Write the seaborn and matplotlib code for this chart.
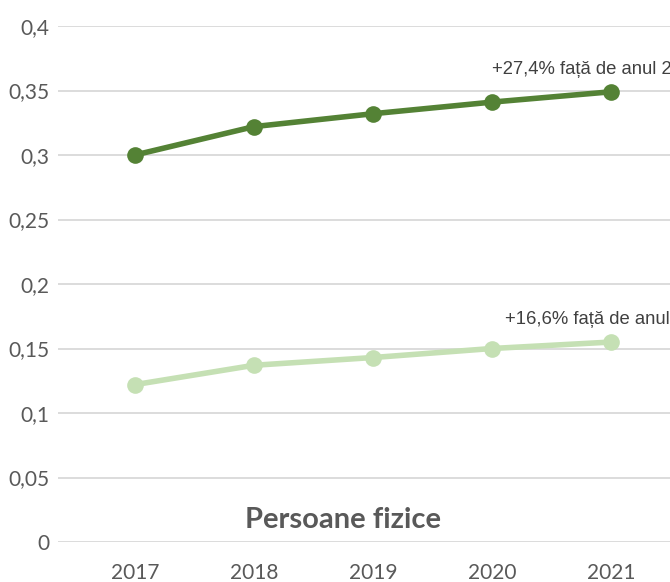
import matplotlib
matplotlib.use("Agg")
import matplotlib.pyplot as plt
import seaborn as sns
import pandas as pd

years = ["2017", "2018", "2019", "2020", "2021"]
series_names = ["dark", "light"]
dark_values = [0.300, 0.322, 0.332, 0.341, 0.349]
light_values = [0.122, 0.137, 0.143, 0.150, 0.155]
labels = ["+27,4% față de anul 2017", "+16,6% față de anul 2017"]
y_ticks = [0, 0.05, 0.1, 0.15, 0.2, 0.25, 0.3, 0.35, 0.4]
y_tick_labels = ["0", "0,05", "0,1", "0,15", "0,2", "0,25", "0,3", "0,35", "0,4"]
title = "Persoane fizice"

colors = {"dark": "#548235", "light": "#C5E0B4"}

df = pd.DataFrame({
    "year": years * 2,
    "value": dark_values + light_values,
    "series": [series_names[0]] * len(years) + [series_names[1]] * len(years),
})

sns.set_theme(style="white")
plt.rcParams["font.family"] = ["Lato", "DejaVu Sans"]

fig = plt.figure(figsize=(6.7, 5.82), dpi=100)
ax = fig.add_axes([58 / 670, 40 / 582, 1 - 58 / 670, 516 / 582])

sns.lineplot(data=df, x="year", y="value", hue="series", palette=colors,
             marker="o", markersize=12, markeredgewidth=0, linewidth=4,
             legend=False, ax=ax, sort=False)

ax.set_ylim(0, 0.4)
ax.set_xlim(-0.647, 4.496)
ax.set_yticks(y_ticks)
ax.set_yticklabels(y_tick_labels)
ax.set_xlabel("")
ax.set_ylabel("")
for s in ax.spines.values():
    s.set_visible(False)
ax.yaxis.grid(True, color="#D9D9D9", linewidth=1.3)
ax.xaxis.grid(False)
ax.set_axisbelow(True)
ax.tick_params(axis="y", length=0, pad=6, labelsize=15, labelcolor="#595959")
ax.tick_params(axis="x", length=0, pad=15, labelsize=15, labelcolor="#595959")

last = len(years) - 1
ax.annotate(labels[0], xy=(last, dark_values[-1]), xytext=(-86, 16),
            textcoords="offset points", ha="left", va="center",
            fontsize=13.3, color="#404040", family=["Liberation Sans", "DejaVu Sans"],
            annotation_clip=False)
ax.annotate(labels[1], xy=(last, light_values[-1]), xytext=(-76, 16),
            textcoords="offset points", ha="left", va="center",
            fontsize=13.3, color="#404040", family=["Liberation Sans", "DejaVu Sans"],
            annotation_clip=False)

fig.text(343 / 670, 1 - 520 / 582, title, ha="center", va="center",
         fontsize=21, fontweight="bold", color="#595959")

fig.savefig("out.png", dpi=100)
